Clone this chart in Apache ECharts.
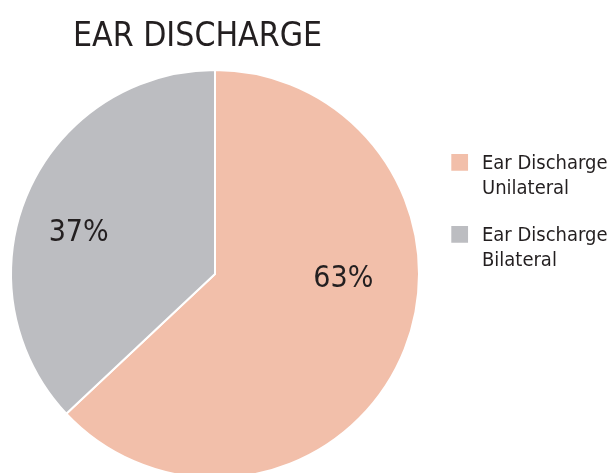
<!DOCTYPE html>
<html>
<head>
<meta charset="utf-8">
<script src="https://cdn.jsdelivr.net/npm/echarts@6/dist/echarts.min.js"></script>
<style>html,body{margin:0;padding:0;background:#fff}#c{width:611px;height:473px}</style>
</head>
<body>
<div id="c"></div>
<script>
const title = 'EAR DISCHARGE';
const categories = ['Ear Discharge Unilateral', 'Ear Discharge Bilateral'];
const legendLines = [['Ear Discharge', 'Unilateral'], ['Ear Discharge', 'Bilateral']];
const values = [63, 37];
const colors = ['#F2BFAA', '#BCBDC1'];
const labelOffsets = [[32, -36], [-40, 1]];

const FONT = '"DejaVu Sans Condensed", "Liberation Sans Narrow", sans-serif';
const TXT = '#231F20';
const chart = echarts.init(document.getElementById('c'));
// square 18.75 units (x0.8 = 15px) with invisible anchor points stretching the box
const iconPath = 'path://M0,0h0.01v0.01h-0.01Z M0,2H18.75V20.75H0Z M26.66,49.99h0.01V50h-0.01Z';

chart.setOption({
  animation: false,
  title: {
    text: title, left: 68, top: 15,
    textStyle: { fontFamily: FONT, fontSize: 33.5, fontWeight: 'normal', color: TXT }
  },
  legend: {
    orient: 'vertical', left: 449.3, top: 150, padding: 0, itemGap: 20,
    itemWidth: 26.67, itemHeight: 50,
    data: categories.map((c) => ({ name: c, icon: iconPath })),
    formatter: name => legendLines[categories.indexOf(name)].join('\n'),
    textStyle: { fontFamily: FONT, fontSize: 20, color: TXT, lineHeight: 25 }
  },
  series: [{
    type: 'pie',
    center: [215, 274],
    radius: 204,
    startAngle: 90,
    clockwise: true,
    legendHoverLink: false,
    itemStyle: { borderColor: '#fff', borderWidth: 2 },
    label: {
      show: true, position: 'inside', formatter: '{c}%',
      fontFamily: FONT, fontSize: 30, color: TXT
    },
    labelLine: { show: false },
    data: categories.map((c, i) => ({
      name: c, value: values[i],
      itemStyle: { color: colors[i] },
      label: { offset: labelOffsets[i] }
    }))
  }]
});
</script>
</body>
</html>
